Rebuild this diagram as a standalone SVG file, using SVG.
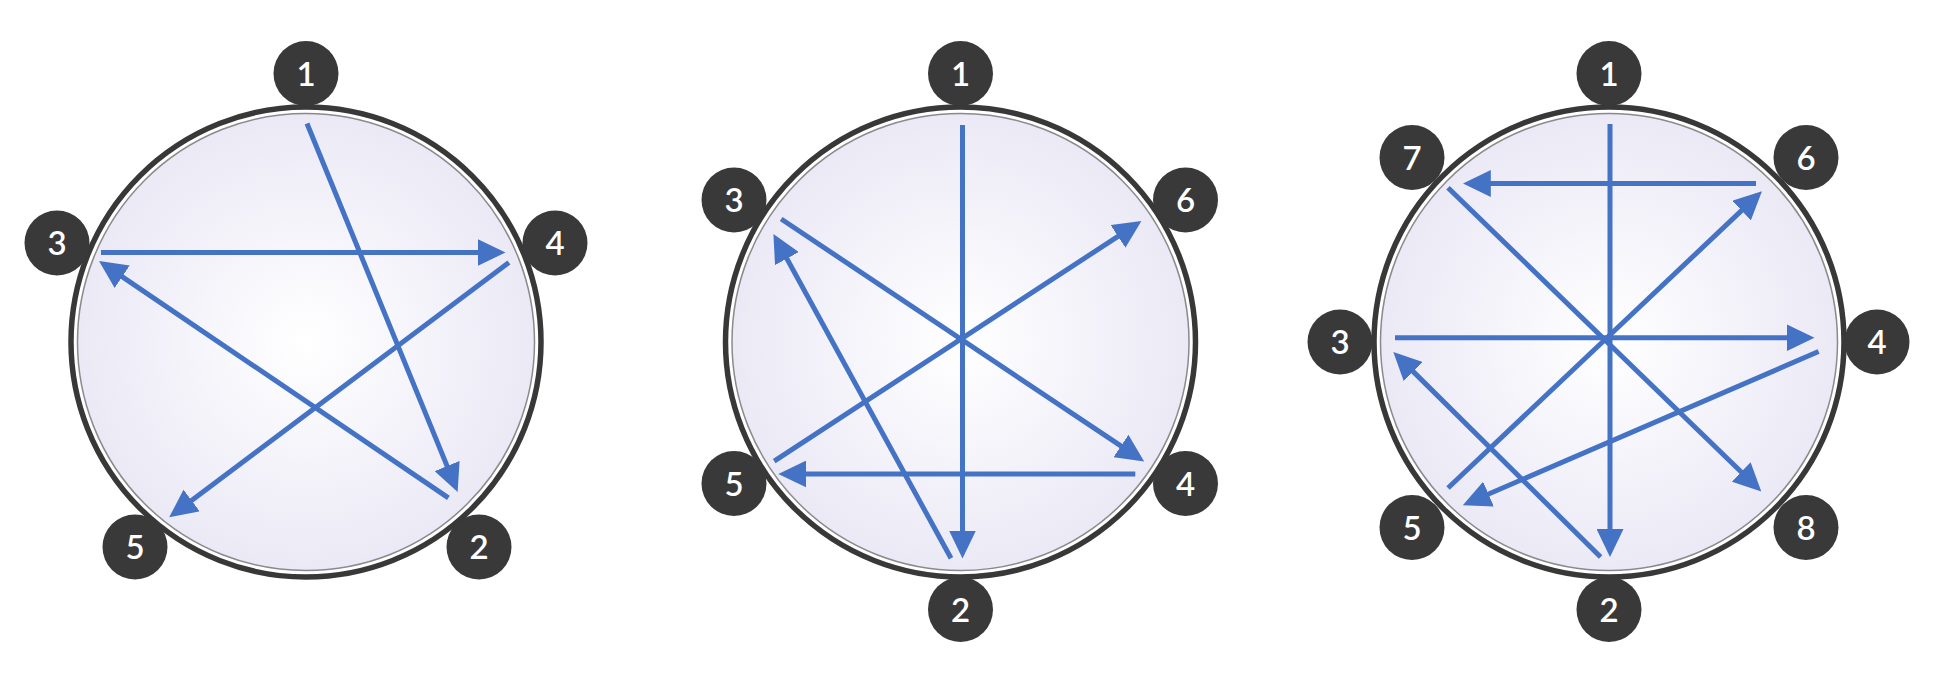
<svg xmlns="http://www.w3.org/2000/svg" width="1941" height="677" viewBox="0 0 1941 677">
<defs>
<radialGradient id="g" cx="50%" cy="50%" r="50%">
<stop offset="0%" stop-color="#ffffff"/>
<stop offset="55%" stop-color="#f4f3fa"/>
<stop offset="100%" stop-color="#ebe9f5"/>
</radialGradient>
<marker id="ah" markerUnits="userSpaceOnUse" markerWidth="28" markerHeight="27" refX="22" refY="13.5" orient="auto" viewBox="0 0 28 27">
<path d="M0,0 L28,13.5 L0,27 Z" fill="#4472c4"/>
</marker>
<style>
.ring{fill:#ffffff;stroke:#383838;stroke-width:5.5}
.inner{fill:url(#g);stroke:#8a8a8a;stroke-width:1.5}
.b circle{fill:#393939}
.b text{fill:#ffffff;font-family:Lato,"DejaVu Sans",sans-serif;font-weight:600;font-size:33px;text-anchor:middle}
.c line{stroke:#4472c4;stroke-width:5;fill:none}
.c line.a{marker-end:url(#ah)}
</style>
</defs>
<rect width="1941" height="677" fill="#ffffff"/>

<g id="wheel1">
<circle class="ring" cx="306" cy="342" r="235"/>
<circle class="inner" cx="306" cy="342" r="228.5"/>
</g>
<g id="wheel2">
<circle class="ring" cx="960.5" cy="342" r="235"/>
<circle class="inner" cx="960.5" cy="342" r="228.5"/>
</g>
<g id="wheel3">
<circle class="ring" cx="1609" cy="342" r="235"/>
<circle class="inner" cx="1609" cy="342" r="228.5"/>
</g>

<g id="connectors" class="c">
<line class="a" x1="307" y1="123.5" x2="455.4" y2="486.4"/>
<line class="a" x1="101" y1="252.5" x2="499.5" y2="252.5"/>
<line class="a" x1="448.4" y1="497.9" x2="104" y2="264.4"/>
<line class="a" x1="508.9" y1="262.5" x2="174" y2="513.7"/>

<line class="a" x1="962.5" y1="125" x2="962.5" y2="552.5"/>
<line class="a" x1="781.2" y1="219" x2="1139.2" y2="458.2"/>
<line class="a" x1="1135.3" y1="474" x2="784.3" y2="474"/>
<line class="a" x1="774.2" y1="461.2" x2="1136.4" y2="224.3"/>
<line class="a" x1="951" y1="558.3" x2="776.3" y2="239.3"/>

<line class="a" x1="1610" y1="124" x2="1610" y2="551"/>
<line class="a" x1="1756" y1="183.5" x2="1468.8" y2="183.5"/>
<line class="a" x1="1448" y1="187.8" x2="1757" y2="487.2"/>
<line class="a" x1="1395" y1="337.7" x2="1808.5" y2="337.7"/>
<line class="a" x1="1818.6" y1="351.5" x2="1468.3" y2="502.8"/>
<line class="a" x1="1448" y1="488" x2="1757.6" y2="195.4"/>
<line class="a" x1="1600.6" y1="557" x2="1397.6" y2="356.1"/>
</g>

<g id="d1n1" class="b"><circle cx="306" cy="73.5" r="32.5"/><text x="306" y="85.5">1</text></g>
<g id="d1n2" class="b"><circle cx="479" cy="547" r="32.5"/><text x="479" y="559">2</text></g>
<g id="d1n3" class="b"><circle cx="57" cy="243" r="32.5"/><text x="57" y="255">3</text></g>
<g id="d1n4" class="b"><circle cx="555" cy="243" r="32.5"/><text x="555" y="255">4</text></g>
<g id="d1n5" class="b"><circle cx="135" cy="547" r="32.5"/><text x="135" y="559">5</text></g>

<g id="d2n1" class="b"><circle cx="960.5" cy="73.5" r="32.5"/><text x="960.5" y="85.5">1</text></g>
<g id="d2n2" class="b"><circle cx="960.5" cy="609.5" r="32.5"/><text x="960.5" y="621.5">2</text></g>
<g id="d2n3" class="b"><circle cx="734" cy="200" r="32.5"/><text x="734" y="212">3</text></g>
<g id="d2n4" class="b"><circle cx="1185.5" cy="483.5" r="32.5"/><text x="1185.5" y="495.5">4</text></g>
<g id="d2n5" class="b"><circle cx="734" cy="483.5" r="32.5"/><text x="734" y="495.5">5</text></g>
<g id="d2n6" class="b"><circle cx="1185.5" cy="200" r="32.5"/><text x="1185.5" y="212">6</text></g>

<g id="d3n1" class="b"><circle cx="1609" cy="73.5" r="32.5"/><text x="1609" y="85.5">1</text></g>
<g id="d3n2" class="b"><circle cx="1609" cy="609.5" r="32.5"/><text x="1609" y="621.5">2</text></g>
<g id="d3n3" class="b"><circle cx="1340" cy="342" r="32.5"/><text x="1340" y="354">3</text></g>
<g id="d3n4" class="b"><circle cx="1877" cy="342" r="32.5"/><text x="1877" y="354">4</text></g>
<g id="d3n5" class="b"><circle cx="1412" cy="527.5" r="32.5"/><text x="1412" y="539.5">5</text></g>
<g id="d3n6" class="b"><circle cx="1806" cy="157.5" r="32.5"/><text x="1806" y="169.5">6</text></g>
<g id="d3n7" class="b"><circle cx="1412" cy="157.5" r="32.5"/><text x="1412" y="169.5">7</text></g>
<g id="d3n8" class="b"><circle cx="1806" cy="527.5" r="32.5"/><text x="1806" y="539.5">8</text></g>
</svg>
